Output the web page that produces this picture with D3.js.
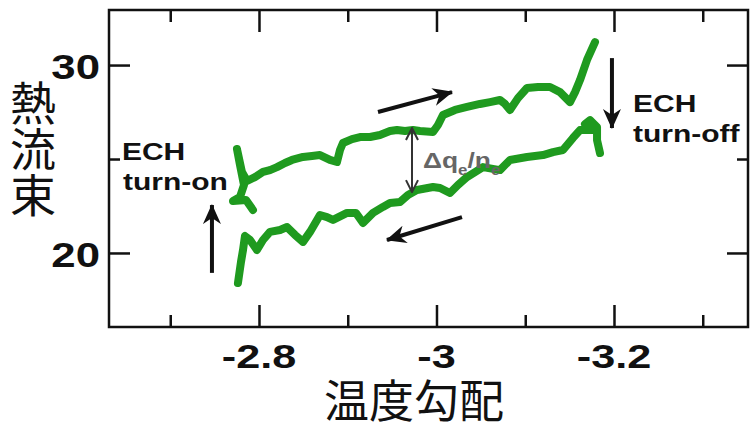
<!DOCTYPE html>
<html><head><meta charset="utf-8">
<script src="https://cdn.jsdelivr.net/npm/d3@7"></script>
<style>body{margin:0;background:#fff} svg{display:block}</style>
</head><body><svg id="c" width="751" height="429"></svg>
<script>
// ECH on: heating branch (upper)
const heatingGrad = [-2.7932,-2.7854,-2.7707,-2.7786,-2.7831,-2.7786,-2.7752,-2.7808,-2.7865,-2.7955,-2.8045,-2.8124,-2.8203,-2.8293,-2.8372,-2.8496,-2.8597,-2.8687,-2.8800,-2.8879,-2.8913,-2.8946,-2.9048,-2.9138,-2.9251,-2.9363,-2.9476,-2.9555,-2.9645,-2.9735,-2.9814,-2.9961,-3.0017,-3.0073,-3.0209,-3.0344,-3.0490,-3.0603,-3.0715,-3.0772,-3.0828,-3.0918,-3.1020,-3.1144,-3.1279,-3.1392,-3.1504,-3.1561,-3.1617,-3.1696,-3.1786];
const heatingFlux = [22.29,22.82,22.77,22.98,23.62,24.68,25.53,24.31,23.83,24.04,24.31,24.41,24.57,24.79,24.95,25.11,25.16,25.21,24.95,24.84,25.48,25.85,26.06,26.17,26.17,26.28,26.49,26.54,26.49,26.54,26.49,26.44,26.81,27.34,27.61,27.77,27.93,28.03,28.14,27.93,27.61,28.24,28.78,28.83,28.83,28.56,28.03,28.56,29.20,30.27,31.22];
// ECH off: cooling branch (lower)
const coolingGrad = [-3.1842,-3.1809,-3.1809,-3.1730,-3.1673,-3.1752,-3.1617,-3.1538,-3.1425,-3.1313,-3.1200,-3.1020,-3.0828,-3.0715,-3.0524,-3.0344,-3.0242,-3.0152,-3.0040,-2.9961,-2.9780,-2.9679,-2.9589,-2.9476,-2.9397,-2.9285,-2.9172,-2.9093,-2.8992,-2.8834,-2.8766,-2.8687,-2.8575,-2.8496,-2.8406,-2.8316,-2.8237,-2.8124,-2.8045,-2.7977,-2.7899,-2.7842,-2.7820,-2.7797,-2.7763];
const coolingFlux = [25.32,26.01,26.70,27.07,26.86,26.54,26.54,26.12,25.48,25.37,25.21,25.11,24.95,24.41,24.57,24.04,23.62,23.19,23.46,23.51,23.35,23.09,22.71,22.66,22.45,22.13,21.60,22.13,22.13,21.76,21.91,22.02,21.12,20.59,20.96,21.38,21.22,21.12,20.69,20.16,20.69,20.90,20.16,19.52,18.40];

const xMajorTicks = [-2.8, -3, -3.2];
const xMinorTicks = [-2.7, -2.9, -3.1, -3.3];
const yMajorTicks = [20, 30];
const yMinorTicks = [25];
const xDomain = [-2.631, -3.351];
const yDomain = [16.06, 32.93];
const xLabel = "温度勾配";
const yLabel = "熱流束";

// annotation anchors (data units)
const arrowFrom = [[-2.747,18.94],[-3.1977,30.37],[-2.9341,27.50],[-3.0287,21.91]];
const arrowTo   = [[-2.747,22.55],[-3.1977,26.65],[-3.0175,28.56],[-2.9442,20.69]];
const deltaArrow = [[-2.9724,26.65],[-2.9724,23.24]];
const echLabels = [
  {lines:["ECH","turn-on"], at:[[-2.6456,24.95],[-2.6468,23.35]]},
  {lines:["ECH","turn-off"], at:[[-3.2214,27.50],[-3.2214,25.90]]}
];
const deltaLabelAt = [-2.9848,24.52];

const svg = d3.select("#c");
const L=109,R=748,T=10,B=327;
const x = d3.scaleLinear().domain(xDomain).range([L,R]);
const y = d3.scaleLinear().domain(yDomain).range([B,T]);

const defs = svg.append("defs");
defs.append("marker").attr("id","ah").attr("viewBox","0 0 20 20")
  .attr("refX",19).attr("refY",10).attr("markerWidth",20).attr("markerHeight",20)
  .attr("markerUnits","userSpaceOnUse").attr("orient","auto")
  .append("path").attr("d","M0,1 L20,10 L0,19 L6,10 Z").attr("fill","#111");
defs.append("marker").attr("id","dh").attr("viewBox","0 0 14 14")
  .attr("refX",13).attr("refY",7).attr("markerWidth",14).attr("markerHeight",14)
  .attr("markerUnits","userSpaceOnUse").attr("orient","auto-start-reverse")
  .append("path").attr("d","M1,1 L13,7 L1,13").attr("fill","none").attr("stroke","#333").attr("stroke-width",2);

const fmt = d => String(d);
const axW = 2.5;

// axes ticks (inward)
function drawAxis(gen, tr, vals, size){
  const g = svg.append("g").attr("transform",tr)
    .call(gen.tickValues(vals).tickSize(-size).tickFormat(""));
  g.select(".domain").remove();
  g.selectAll("line").attr("stroke","#111").attr("stroke-width",axW);
}
drawAxis(d3.axisBottom(x), `translate(0,${B})`, xMajorTicks, 22);
drawAxis(d3.axisBottom(x), `translate(0,${B})`, xMinorTicks, 12);
drawAxis(d3.axisTop(x), `translate(0,${T})`, xMajorTicks, 22);
drawAxis(d3.axisTop(x), `translate(0,${T})`, xMinorTicks, 12);
drawAxis(d3.axisLeft(y), `translate(${L},0)`, yMajorTicks, 21);
drawAxis(d3.axisLeft(y), `translate(${L},0)`, yMinorTicks, 11);
drawAxis(d3.axisRight(y), `translate(${R},0)`, yMajorTicks, 21);
drawAxis(d3.axisRight(y), `translate(${R},0)`, yMinorTicks, 11);

svg.append("rect").attr("x",L).attr("y",T).attr("width",R-L).attr("height",B-T)
  .attr("fill","none").attr("stroke","#111").attr("stroke-width",axW);

const lblFont = "'Liberation Sans', Arial, Helvetica, sans-serif";
// tick labels
svg.append("g").selectAll("text").data(xMajorTicks).join("text")
  .attr("transform", d=>`translate(${x(d)},368) scale(1.27,1)`)
  .attr("text-anchor","middle").attr("font-family",lblFont).attr("font-weight","bold")
  .attr("font-size",34).attr("fill","#111").text(fmt);
svg.append("g").selectAll("text").data(yMajorTicks).join("text")
  .attr("transform", d=>`translate(100,${y(d)+14}) scale(1.25,1)`)
  .attr("text-anchor","end").attr("font-family",lblFont).attr("font-weight","bold")
  .attr("font-size",35).attr("fill","#111").text(fmt);

// data lines
const line = d3.line().x(d=>x(d[0])).y(d=>y(d[1]));
const heating = heatingGrad.map((g,i)=>[g,heatingFlux[i]]);
const cooling = coolingGrad.map((g,i)=>[g,coolingFlux[i]]);
[heating, cooling].forEach(s=>{
  svg.append("path").datum(s).attr("d",line).attr("fill","none")
    .attr("stroke","#1f9a1f").attr("stroke-width",8)
    .attr("stroke-linejoin","round").attr("stroke-linecap","round");
});

// arrows
arrowFrom.forEach((p,i)=>{
  const q = arrowTo[i];
  svg.append("line").attr("x1",x(p[0])).attr("y1",y(p[1])).attr("x2",x(q[0])).attr("y2",y(q[1]))
    .attr("stroke","#111").attr("stroke-width",4).attr("marker-end","url(#ah)");
});
svg.append("line").attr("x1",x(deltaArrow[0][0])).attr("y1",y(deltaArrow[0][1]))
  .attr("x2",x(deltaArrow[1][0])).attr("y2",y(deltaArrow[1][1]))
  .attr("stroke","#333").attr("stroke-width",2)
  .attr("marker-start","url(#dh)").attr("marker-end","url(#dh)");

// ECH labels
echLabels.forEach(e=>{
  e.lines.forEach((t,i)=>{
    svg.append("text").attr("transform",`translate(${x(e.at[i][0])},${y(e.at[i][1])}) scale(1.25,1)`)
      .attr("font-family",lblFont).attr("font-weight","bold").attr("font-size",24)
      .attr("fill","#111").text(t);
  });
});
// delta label
const dt = svg.append("text").attr("transform",`translate(${x(deltaLabelAt[0])},${y(deltaLabelAt[1])}) scale(1.2,1)`)
  .attr("font-family",lblFont).attr("font-weight","bold").attr("font-size",22).attr("fill","#666");
dt.append("tspan").text("Δq");
dt.append("tspan").attr("dy",7).attr("font-size",14).text("e");
dt.append("tspan").attr("dy",-7).text("/n");
dt.append("tspan").attr("dy",7).attr("font-size",14).text("e");

// axis titles
const cjk = "'Noto Sans CJK JP','Noto Sans CJK SC',sans-serif";
svg.append("text").attr("x",414).attr("y",418).attr("text-anchor","middle")
  .attr("font-family",cjk).attr("font-size",45).attr("fill","#111").text(xLabel);
svg.append("text").attr("x",33).attr("y",80)
  .style("writing-mode","vertical-rl").style("text-orientation","upright")
  .attr("font-family",cjk).attr("font-size",46).attr("fill","#111").text(yLabel);
</script></body></html>
